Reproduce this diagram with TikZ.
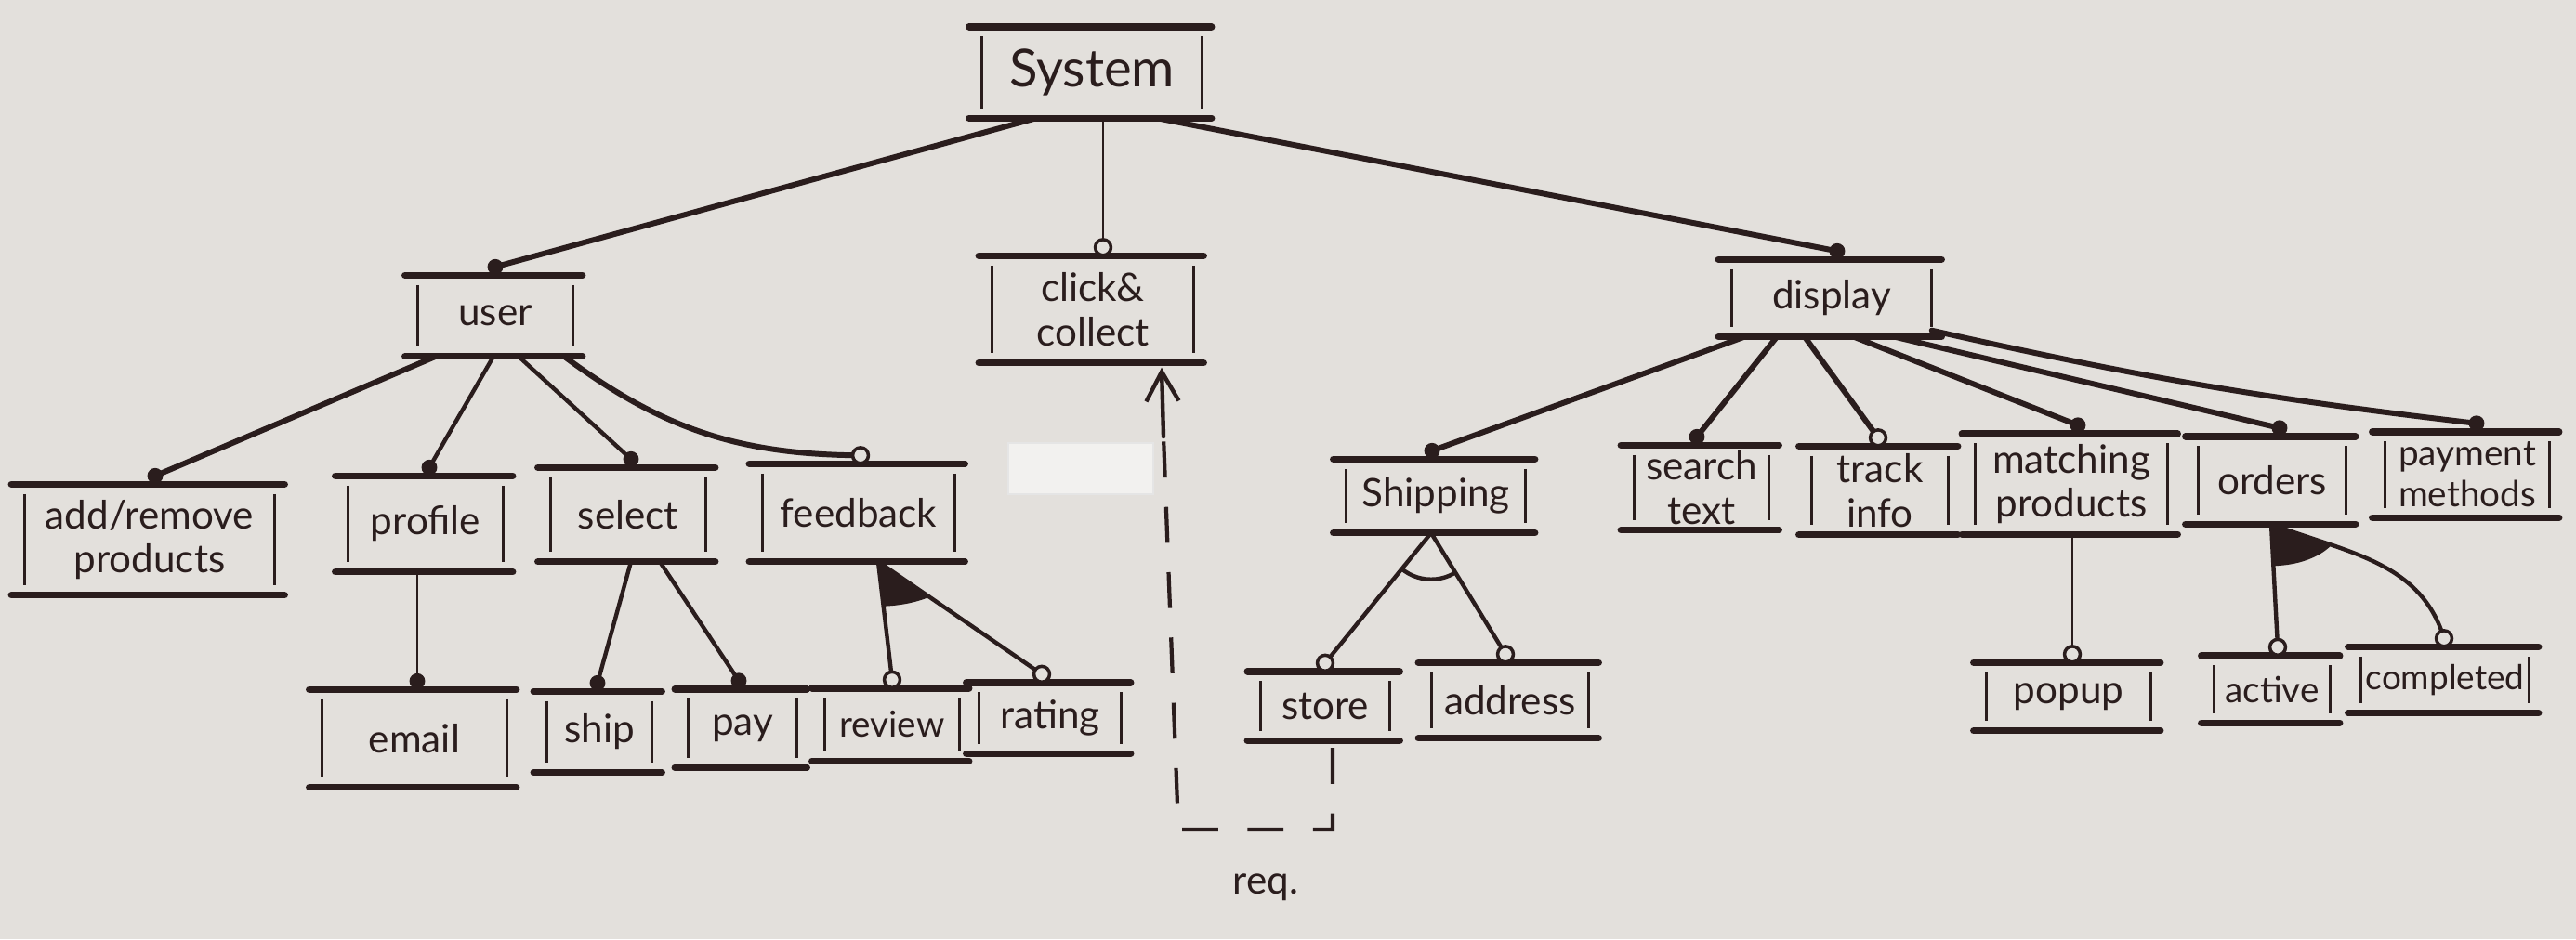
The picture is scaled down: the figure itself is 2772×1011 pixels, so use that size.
\documentclass[tikz,border=0pt]{standalone}
\usepackage{fontspec}
\setmainfont{Lato}
\usetikzlibrary{calc,arrows.meta}
\definecolor{paper}{HTML}{E3E0DC}
\definecolor{ink}{HTML}{2A1D1D}
\begin{document}
\begin{tikzpicture}[x=0.01cm,y=-0.01cm,
  fm/.style 2 args={minimum width=#1*0.01cm, minimum height=#2*0.01cm, inner sep=0pt,
     align=center, text=ink, font=\fontsize{12}{13.5}\selectfont},
  small/.style={font=\fontsize{11}{12.5}\selectfont},
  thk/.style={draw=ink, line width=1.7pt, line cap=round},
  med/.style={draw=ink, line width=1.25pt, line cap=round},
  thn/.style={draw=ink, line width=0.8pt, line cap=round},
  boxedge/.style={draw=ink, line width=2.1pt, line cap=round},
  boxside/.style={draw=ink, line width=0.9pt},
  dsh/.style={draw=ink, line width=1.2pt, dash pattern=on 11pt off 9pt},
  mand/.style={fill=ink},
  opt/.style={draw=ink, line width=1pt, fill=paper}]

\fill[paper] (0,0) rectangle (2772,1011);
\useasboundingbox (0,0) rectangle (2772,1011);

% paper patch
\draw[draw=white!80!gray, line width=0.4pt, fill=white!55!paper] (1085,477) rectangle (1241,532);

% feature boxes
\node[fm={235}{97}, font=\fontsize{16}{18}\selectfont] (system) at (1175,78) {System};
\node[fm={165}{86}] (user) at (533,340) {user};
\node[fm={216}{114}] (click) at (1176,333) {click\&\\collect};
\node[fm={214}{82}] (display) at (1971,321) {display};
\node[fm={268}{118}] (addrem) at (161,581) {add/remove\\products};
\node[fm={165}{102}] (profile) at (458,564) {profile};
\node[fm={165}{100}] (select) at (676,554) {select};
\node[fm={206}{104}] (feedback) at (924,552) {feedback};
\node[fm={197}{104}] (email) at (446,795) {email};
\node[fm={112}{86}] (ship) at (645,788) {ship};
\node[fm={116}{83}] (pay) at (799,784) {pay};
\node[fm={143}{77}, small] (review) at (960,780) {review};
\node[fm={151}{75}] (rating) at (1130,773) {rating};
\node[fm={191}{78}] (shipping) at (1545,534) {Shipping};
\node[fm={144}{90}] (search) at (1831,525) {search\\text};
\node[fm={145}{94}] (track) at (2023,528) {track\\info};
\node[fm={206}{107}] (matching) at (2229,521) {matching\\products};
\node[fm={157}{93}] (orders) at (2445,517) {orders};
\node[fm={175}{91}, small] (payment) at (2655,511) {payment\\methods};
\node[fm={138}{73}] (store) at (1426,760) {store};
\node[fm={168}{80}] (address) at (1625,754) {address};
\node[fm={175}{72}] (popup) at (2226,750) {popup};
\node[fm={123}{71}, small] (active) at (2445,742) {active};
\node[fm={179}{70}, font=\fontsize{10.5}{12}\selectfont] (completed) at (2631,732) {completed};
\node[text=ink, font=\fontsize{12}{13.5}\selectfont] (req) at (1362,955) {req.};

\foreach \n in {system,user,click,display,addrem,profile,select,feedback,email,ship,pay,review,rating,shipping,search,track,matching,orders,payment,store,address,popup,active,completed}{
  \draw[boxedge] ([xshift=-4pt]\n.north west) -- ([xshift=3pt]\n.north east);
  \draw[boxedge] ([xshift=-4pt]\n.south west) -- ([xshift=3pt]\n.south east);
  \draw[boxside] ([yshift=-3pt]\n.north west) -- ([yshift=3pt]\n.south west);
  \draw[boxside] ([yshift=-3pt]\n.north east) -- ([yshift=3pt]\n.south east);
}

% attachment points (circles) on children
\coordinate (cUser) at ($(user.north)+(0,-9)$);
\coordinate (cClick) at ($(click.north)+(11,-9)$);
\coordinate (cDisplay) at ($(display.north)+(6,-9)$);
\coordinate (cAddrem) at ($(addrem.north)+(6,-9)$);
\coordinate (cProfile) at ($(profile.north)+(4,-9)$);
\coordinate (cSelect) at ($(select.north)+(3,-9)$);
\coordinate (cFeedback) at ($(feedback.north)+(2,-9)$);
\coordinate (cEmail) at ($(email.north)+(3,-9)$);
\coordinate (cShip) at ($(ship.north)+(-2,-9)$);
\coordinate (cPay) at ($(pay.north)+(-4,-9)$);
\coordinate (cReview) at ($(review.north)+(0,-9)$);
\coordinate (cRating) at ($(rating.north)+(-9,-9)$);
\coordinate (cShipping) at ($(shipping.north)+(-4,-9)$);
\coordinate (cSearch) at ($(search.north)+(-5,-9)$);
\coordinate (cTrack) at ($(track.north)+(-2,-9)$);
\coordinate (cMatching) at ($(matching.north)+(7,-9)$);
\coordinate (cOrders) at ($(orders.north)+(8,-9)$);
\coordinate (cPayment) at ($(payment.north)+(10,-9)$);
\coordinate (cStore) at ($(store.north)+(0,-9)$);
\coordinate (cAddress) at ($(address.north)+(-5,-9)$);
\coordinate (cPopup) at ($(popup.north)+(4,-9)$);
\coordinate (cActive) at ($(active.north)+(6,-9)$);
\coordinate (cCompleted) at ($(completed.north)+(-1,-9)$);

% System
\draw[thk] ($(system.south)+(-60,0)$) -- (cUser);
\draw[thn] ($(system.south)+(12,0)$) -- (cClick);
\draw[thk] ($(system.south)+(70,0)$) -- (cDisplay);

% user
\draw[thk] ($(user.south)+(-64,0)$) -- (cAddrem);
\draw[med] ($(user.south)+(-2,0)$) -- (cProfile);
\draw[med] ($(user.south)+(25,0)$) -- (cSelect);
\draw[thk] ($(user.south)+(74,0)$) to[bend right=18] (cFeedback);
\draw[thn] ($(profile.south)+(-9,0)$) -- (cEmail);
\draw[med] ($(select.south)+(3,0)$) -- (cShip);
\draw[med] ($(select.south)+(34,0)$) -- (cPay);

% feedback: or-group
\coordinate (apFb) at ($(feedback.south)+(21,0)$);
\draw[med] (apFb) -- (cReview);
\draw[med] (apFb) -- (cRating);
\begin{scope}
  \clip (apFb) ellipse [x radius=0.9cm, y radius=0.48cm];
  \fill[ink] (apFb) -- (cReview) -- (cRating) -- cycle;
\end{scope}

% display
\draw[thk] ($(display.south)+(-94,0)$) -- (cShipping);
\draw[thk] ($(display.south)+(-59,0)$) -- (cSearch);
\draw[thk] ($(display.south)+(-29,0)$) -- (cTrack);
\draw[thk] ($(display.south)+(24,0)$) -- (cMatching);
\draw[thk] ($(display.south)+(68,0)$) -- (cOrders);
\draw[thk] ($(display.south east)+(0,-7)$) to[bend right=3] (cPayment);

% shipping: alternative group
\coordinate (apSh) at ($(shipping.south)+(-5,0)$);
\draw[med] (apSh) -- (cStore);
\draw[med] (apSh) -- (cAddress);
\begin{scope}
  \clip (apSh) -- (cStore) -- (cAddress) -- cycle;
  \draw[med] (apSh) circle (0.5cm);
\end{scope}

% matching products
\draw[thn] ($(matching.south)+(1,0)$) -- (cPopup);

% orders: or-group
\coordinate (apOr) at ($(orders.south)+(-1,0)$);
\draw[med] (apOr) -- (cActive);
\draw[med] (apOr) to[out=-21,in=107] (cCompleted);
\begin{scope}
  \clip (apOr) ellipse [x radius=0.75cm, y radius=0.45cm];
  \fill[ink] (apOr) -- (cActive) -- (cCompleted) to[out=107,in=-21] (apOr) -- cycle;
\end{scope}

% requires: store -> click&collect
\coordinate (rq1) at ($(store.south)+(8,8)$);
\coordinate (rq2) at (1434,893);
\coordinate (rq3) at (1268,893);
\coordinate (rq4) at (1252,470);
\draw[dsh] (rq1) -- (rq2) -- (rq3) -- (rq4);
\draw[med, -{Straight Barb[length=9pt,width=10pt]}] (rq4) -- ($(click.south)+(74,5)$);

% dots
\foreach \c in {cUser,cDisplay,cAddrem,cProfile,cSelect,cEmail,cShip,cPay,cShipping,cSearch,cMatching,cOrders,cPayment}
  \fill[mand] (\c) circle (2.4pt);
\foreach \c in {cClick,cFeedback,cReview,cRating,cTrack,cStore,cAddress,cPopup,cActive,cCompleted}
  \draw[opt] (\c) circle (2.4pt);

\end{tikzpicture}
\end{document}
